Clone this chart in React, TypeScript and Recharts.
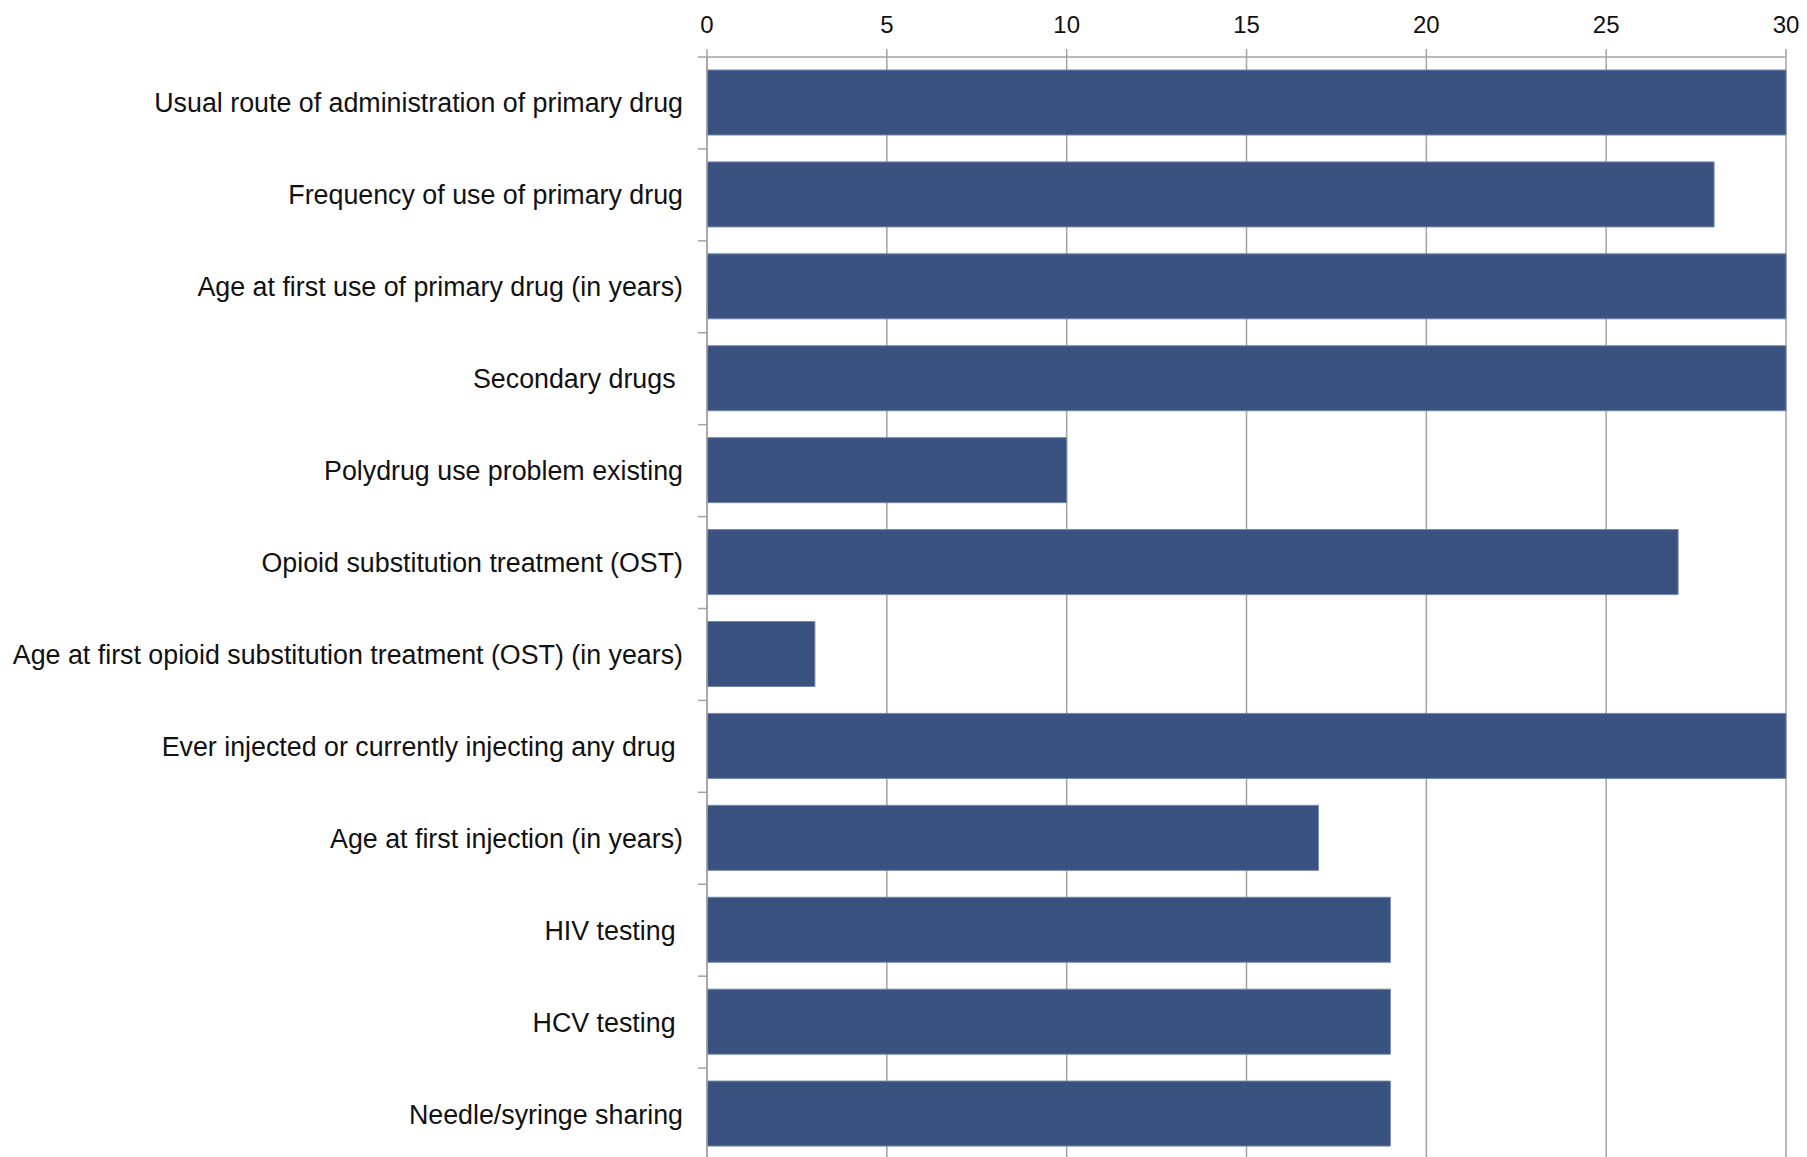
import React from 'react';
import { BarChart, Bar, XAxis, YAxis, CartesianGrid } from 'recharts';

const categories = [
  'Usual route of administration of primary drug',
  'Frequency of use of primary drug',
  'Age at first use of primary drug (in years)',
  'Secondary drugs ',
  'Polydrug use problem existing',
  'Opioid substitution treatment (OST)',
  'Age at first opioid substitution treatment (OST) (in years)',
  'Ever injected or currently injecting any drug ',
  'Age at first injection (in years)',
  'HIV testing ',
  'HCV testing ',
  'Needle/syringe sharing',
];

const counts = [30, 28, 30, 30, 10, 27, 3, 30, 17, 19, 19, 19];

const xTicks = [0, 5, 10, 15, 20, 25, 30];

const data = categories.map((name, i) => ({ name, value: counts[i] }));

const WIDTH = 1807;
const HEIGHT = 1160;
const TOP = 57;
const BAND = (HEIGHT - TOP) / categories.length;
const AXIS_GRAY = '#a3a3a3';
const FONT = '"Liberation Sans", Arial, sans-serif';

function CategoryTick(props: any) {
  const { x, y, payload } = props;
  const top = y - BAND / 2;
  return (
    <g>
      <line x1={x - 9} y1={top} x2={x} y2={top} stroke={AXIS_GRAY} strokeWidth={1.5} />
      <text
        x={x - 24}
        y={y}
        dy="0.355em"
        textAnchor="end"
        fontSize={26.8}
        fill="#111"
        fontFamily={FONT}
        style={{ whiteSpace: 'pre' }}
      >
        {payload.value}
      </text>
    </g>
  );
}

function ValueTick(props: any) {
  const { x, payload } = props;
  return (
    <text x={x} y={33} textAnchor="middle" fontSize={24} fill="#111" fontFamily={FONT}>
      {payload.value}
    </text>
  );
}

export default function App() {
  return (
    <div
      style={{
        position: 'absolute',
        left: 0,
        top: 0,
        width: WIDTH,
        height: 1157,
        overflow: 'hidden',
        background: '#fff',
      }}
    >
      <BarChart
        width={WIDTH}
        height={HEIGHT}
        data={data}
        layout="vertical"
        margin={{ top: 0, right: 21, left: 0, bottom: 0 }}
      >
        <CartesianGrid horizontal={false} stroke={AXIS_GRAY} strokeWidth={1.5} />
        <XAxis
          type="number"
          orientation="top"
          domain={[0, 30]}
          ticks={xTicks}
          height={TOP}
          tickSize={8}
          axisLine={{ stroke: AXIS_GRAY, strokeWidth: 1.5 }}
          tickLine={{ stroke: AXIS_GRAY, strokeWidth: 1.5 }}
          tick={<ValueTick />}
        />
        <YAxis
          type="category"
          dataKey="name"
          width={707}
          tickSize={0}
          tickMargin={0}
          tickLine={false}
          axisLine={{ stroke: AXIS_GRAY, strokeWidth: 1.5 }}
          tick={<CategoryTick />}
          interval={0}
        />
        <Bar
          dataKey="value"
          fill="#3a5280"
          stroke="#7386ab"
          strokeWidth={1}
          barSize={65}
          isAnimationActive={false}
        />
      </BarChart>
    </div>
  );
}
